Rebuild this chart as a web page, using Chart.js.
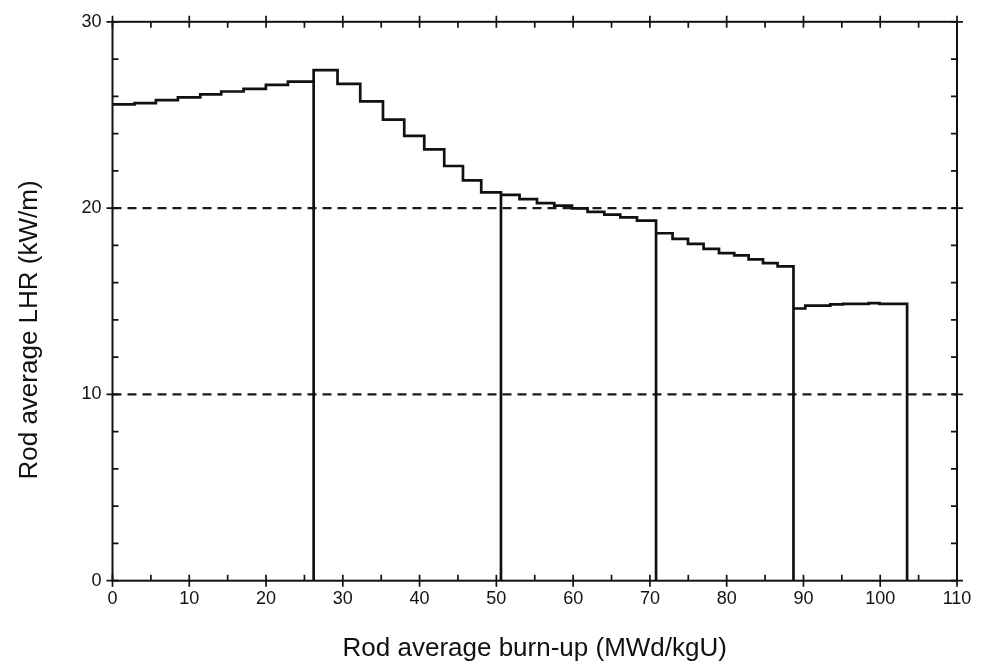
<!DOCTYPE html>
<html>
<head>
<meta charset="utf-8">
<script src="https://cdn.jsdelivr.net/npm/chart.js@4/dist/chart.umd.min.js"></script>
<style>
  html, body { margin: 0; padding: 0; background: #fff; }
  #wrap { width: 987px; height: 662px; }
</style>
</head>
<body>
<div id="wrap"><canvas id="lhr" width="987" height="662"></canvas></div>
<script>
// Rod average LHR per burn-up step, one block per irradiation cycle.
// binStartN: burn-up (MWd/kgU) at which each step begins; lhrN: LHR (kW/m) held over that step.
const cycleEnds = [26.2, 50.6, 70.8, 88.7, 103.5];

const binStart1 = [0, 2.87, 5.65, 8.52, 11.43, 14.16, 17.07, 19.98, 22.85];
const lhr1      = [25.57, 25.64, 25.80, 25.94, 26.10, 26.26, 26.40, 26.61, 26.79];

const binStart2 = [26.2, 29.31, 32.27, 35.23, 38.0, 40.61, 43.21, 45.65, 48.03];
const lhr2      = [27.41, 26.67, 25.73, 24.75, 23.88, 23.15, 22.26, 21.49, 20.84];

const binStart3 = [50.6, 53.02, 55.29, 57.54, 59.85, 61.88, 64.06, 66.14, 68.32];
const lhr3      = [20.71, 20.48, 20.27, 20.13, 19.98, 19.80, 19.65, 19.50, 19.33];

const binStart4 = [70.8, 72.95, 74.96, 76.99, 79.0, 80.99, 82.86, 84.73, 86.63];
const lhr4      = [18.65, 18.35, 18.08, 17.81, 17.58, 17.46, 17.25, 17.05, 16.87];

const binStart5 = [88.7, 90.24, 93.5, 95.15, 98.49, 99.92];
const lhr5      = [14.61, 14.76, 14.83, 14.86, 14.90, 14.86];

// Dashed reference levels (kW/m)
const refLevels = [10, 20];

// Axis ranges, tick spacing and titles
const xRange = [0, 110];
const yRange = [0, 30];
const xMajor = 10, xMinor = 5;
const yMajor = 10, yMinor = 2;
const xTitle = 'Rod average burn-up (MWd/kgU)';
const yTitle = 'Rod average LHR (kW/m)';

const starts = [binStart1, binStart2, binStart3, binStart4, binStart5];
const values = [lhr1, lhr2, lhr3, lhr4, lhr5];

// Build the stepped outline: each cycle's steps, then a drop to zero at the cycle end.
const stepPoints = [];
starts.forEach((s, c) => {
  s.forEach((x, i) => stepPoints.push({ x: x, y: values[c][i] }));
  stepPoints.push({ x: cycleEnds[c], y: 0 });
});

const refDatasets = refLevels.map(v => ({
  data: [{ x: xRange[0], y: v }, { x: xRange[1], y: v }],
  borderColor: '#1a1a1a',
  borderWidth: 2.2,
  borderDash: [9, 6],
  pointRadius: 0,
  fill: false,
  order: 2
}));

const FONT = "'Liberation Sans', Arial, Helvetica, sans-serif";

// Box frame plus inward minor / crossing major ticks on all four sides,
// and the two axis titles.
const frameTicks = {
  id: 'frameTicks',
  afterDraw(chart) {
    const { ctx, chartArea: a, scales } = chart;
    const xs = scales.x, ys = scales.y;
    ctx.save();
    ctx.strokeStyle = '#111';
    ctx.lineWidth = 2;
    ctx.strokeRect(a.left, a.top, a.right - a.left, a.bottom - a.top);
    ctx.lineWidth = 1.7;
    ctx.beginPath();
    const len = 6;
    for (let v = xRange[0]; v <= xRange[1]; v += xMinor) {
      const px = xs.getPixelForValue(v);
      const out = (v % xMajor === 0) ? len : 0;
      ctx.moveTo(px, a.bottom + out); ctx.lineTo(px, a.bottom - len);
      ctx.moveTo(px, a.top - out);    ctx.lineTo(px, a.top + len);
    }
    for (let v = yRange[0]; v <= yRange[1]; v += yMinor) {
      const py = ys.getPixelForValue(v);
      const out = (v % yMajor === 0) ? len : 0;
      ctx.moveTo(a.left - out, py);  ctx.lineTo(a.left + len, py);
      ctx.moveTo(a.right + out, py); ctx.lineTo(a.right - len, py);
    }
    ctx.stroke();

    ctx.fillStyle = '#111';
    ctx.font = '26px ' + FONT;
    ctx.textAlign = 'center';
    ctx.textBaseline = 'middle';
    ctx.fillText(xTitle, (a.left + a.right) / 2, 649);

    ctx.translate(30, 330);
    ctx.rotate(-Math.PI / 2);
    ctx.fillText(yTitle, 0, 0);
    ctx.restore();
  }
};

new Chart(document.getElementById('lhr'), {
  type: 'line',
  data: {
    datasets: [
      {
        data: stepPoints,
        borderColor: '#111',
        borderWidth: 2.7,
        stepped: true,
        pointRadius: 0,
        fill: false,
        order: 1
      },
      ...refDatasets
    ]
  },
  options: {
    responsive: false,
    animation: false,
    devicePixelRatio: 1,
    layout: { padding: { top: 18.3, right: 30, left: 0, bottom: 0 } },
    plugins: { legend: { display: false }, tooltip: { enabled: false } },
    scales: {
      x: {
        type: 'linear',
        min: xRange[0], max: xRange[1],
        grid: { display: false, drawTicks: false },
        border: { display: false },
        ticks: { stepSize: xMajor, color: '#111', font: { family: FONT, size: 18 }, padding: 8, maxRotation: 0 },
        title: { display: false },
        afterFit(scale) { scale.height = 81.3; }
      },
      y: {
        type: 'linear',
        min: yRange[0], max: yRange[1],
        grid: { display: false, drawTicks: false },
        border: { display: false },
        ticks: { stepSize: yMajor, color: '#111', font: { family: FONT, size: 18 }, padding: 11 },
        title: { display: false },
        afterFit(scale) { scale.width = 112.5; }
      }
    }
  },
  plugins: [frameTicks]
});
</script>
</body>
</html>
